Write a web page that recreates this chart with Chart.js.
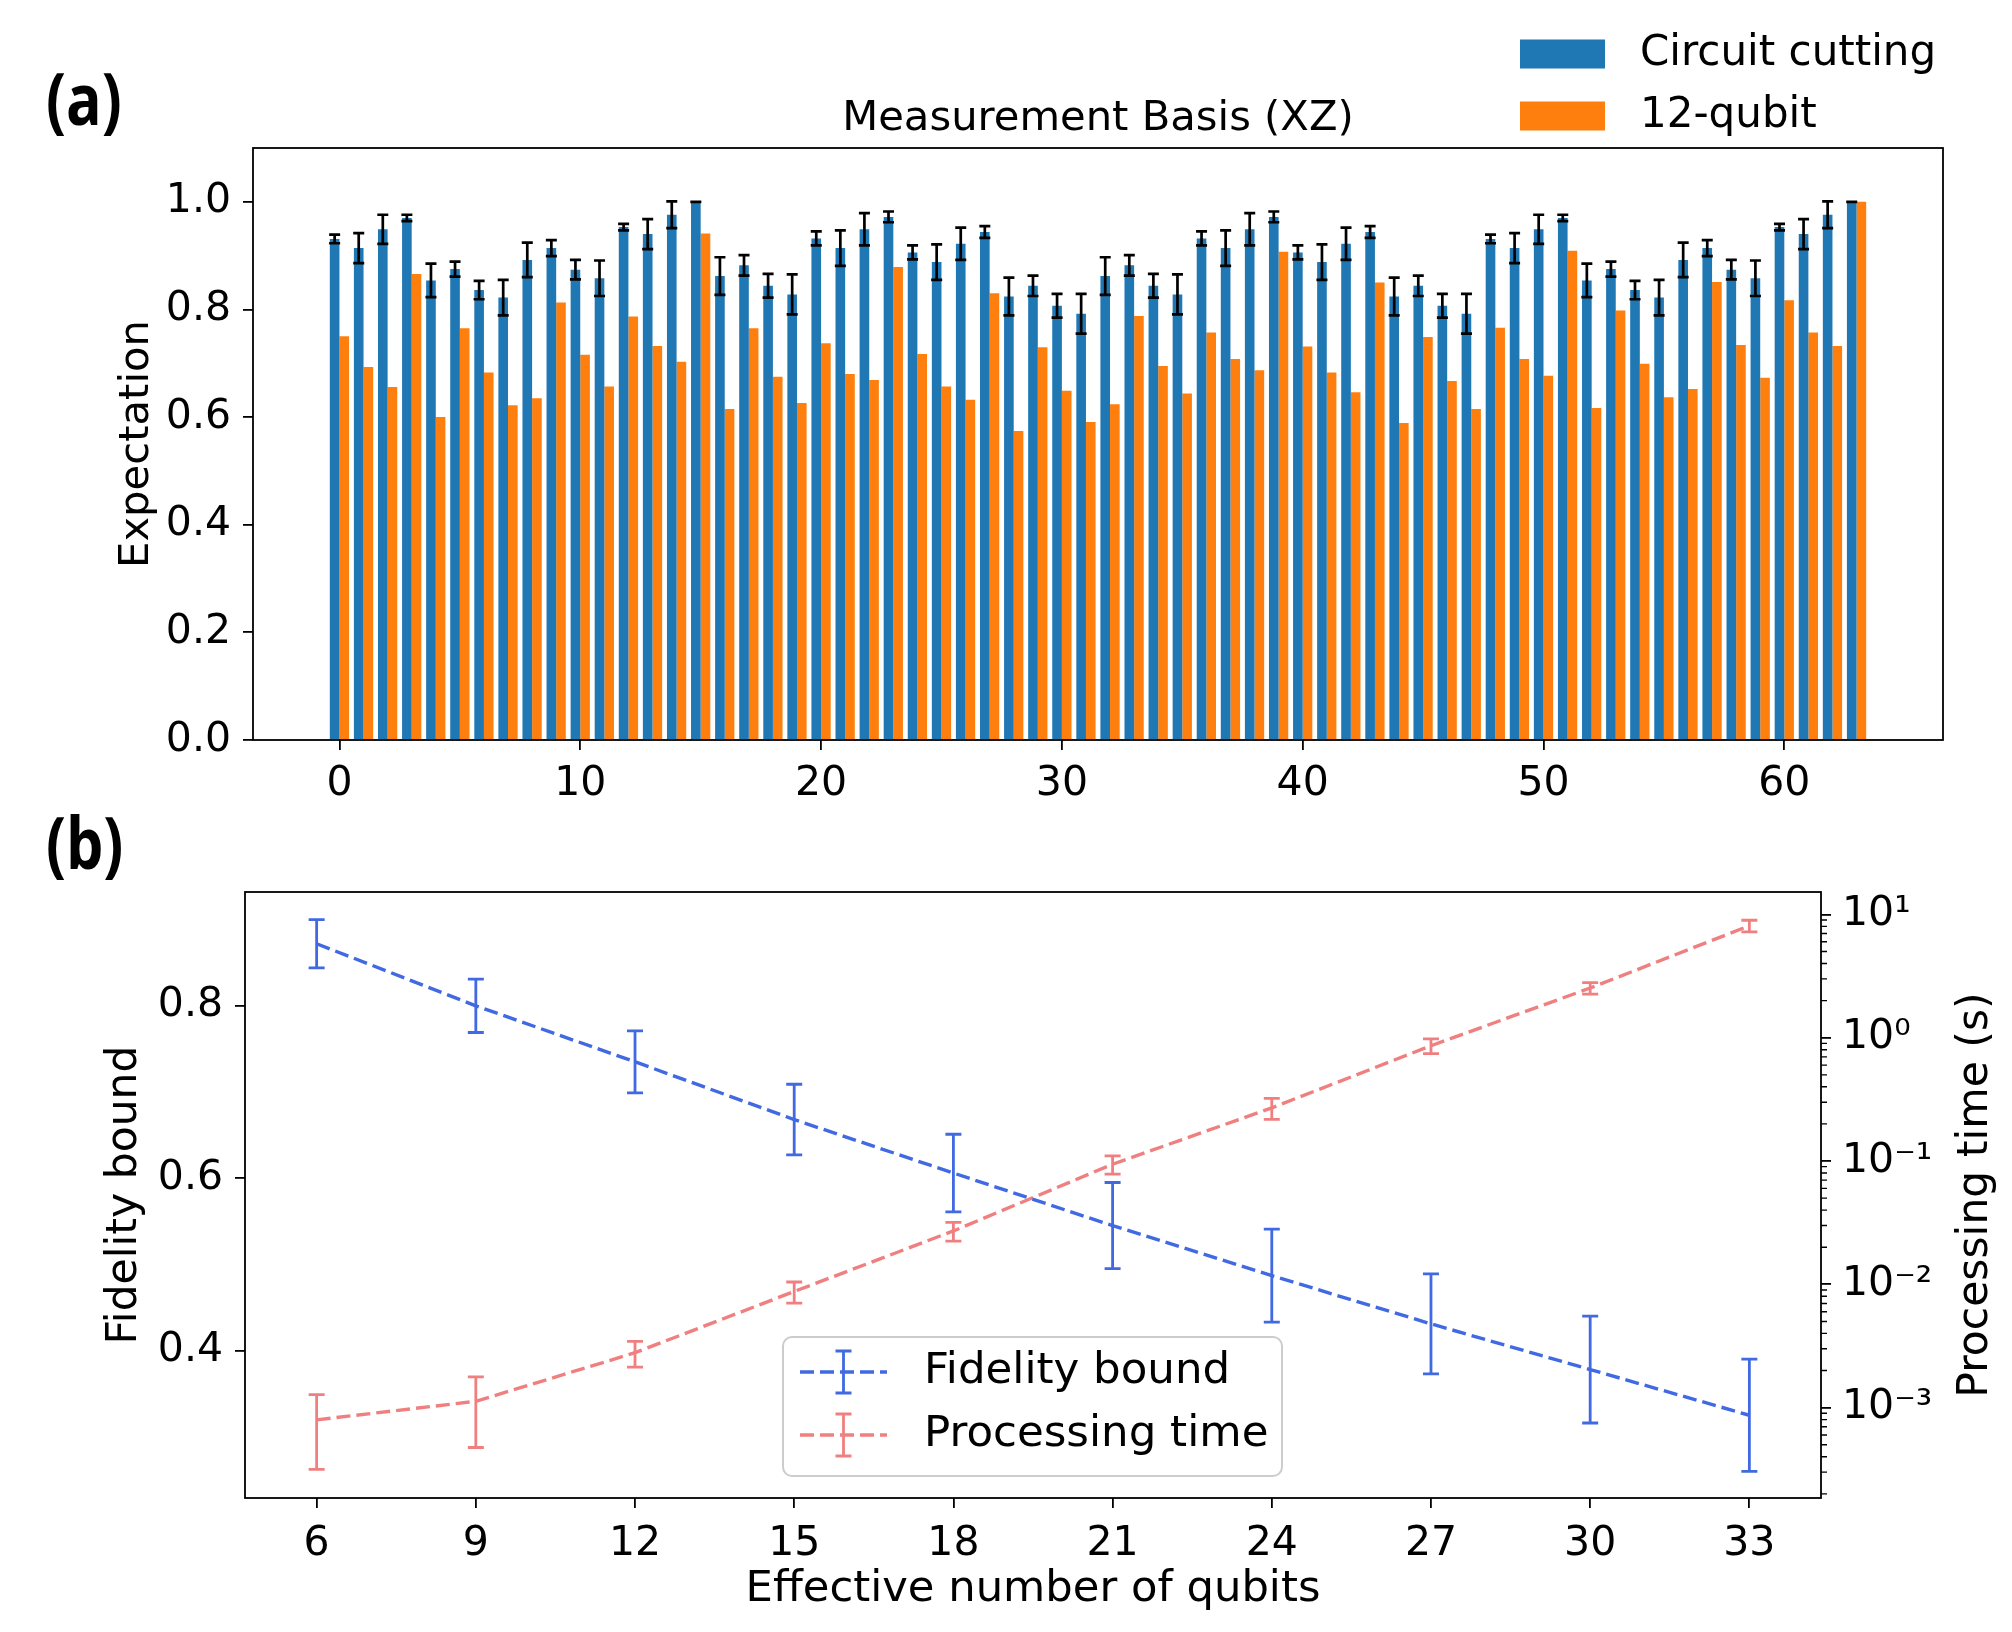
<!DOCTYPE html>
<html lang="en">

<head>
    <meta charset="UTF-8">
    <title>Circuit cutting: expectation values and fidelity bound</title>

    <!-- Chart.js -->
    <script src="https://cdn.jsdelivr.net/npm/chart.js@4.4.1/dist/chart.umd.min.js"></script>

    <style>
        html, body {
            margin: 0;
            padding: 0;
            background: #fff;
        }

        #page {
            position: relative;
            width: 2012px;
            height: 1632px;
        }

        .panel {
            position: absolute;
            left: 0;
            width: 2012px;
        }

        #panel-a { top: 0; height: 820px; }
        #panel-b { top: 820px; height: 812px; }

        /* panel tags (a) / (b) */
        .tag {
            position: absolute;
            left: 46px;
            font-family: 'Open Sans', sans-serif;
            font-weight: 700;
            font-size: 72px;
            line-height: 1;
            transform: scaleX(0.82);
            transform-origin: left center;
        }
    </style>
</head>

<body>
    <div id="page">
        <div class="panel" id="panel-a"><canvas id="chartA"></canvas></div>
        <div class="panel" id="panel-b"><canvas id="chartB"></canvas></div>
        <div class="tag" style="top: 61px;">(a)</div>
        <div class="tag" style="top: 805px;">(b)</div>
    </div>

    <script>
        // ---------- panel (a): expectation per measurement index ----------
        const basisIndex = Array.from({ length: 64 }, (_, i) => i);
        const xTicksA = [0, 10, 20, 30, 40, 50, 60];
        const yTicksA = [0.0, 0.2, 0.4, 0.6, 0.8, 1.0];

        const circuitCutting = [
            0.931, 0.914, 0.949, 0.970, 0.854, 0.875, 0.836, 0.822, 0.892, 0.914, 0.874, 0.858, 0.953, 0.940, 0.976, 1.000,
            0.862, 0.882, 0.844, 0.828, 0.932, 0.914, 0.949, 0.972, 0.906, 0.888, 0.922, 0.944, 0.824, 0.844, 0.807, 0.792,
            0.862, 0.882, 0.844, 0.828, 0.932, 0.914, 0.949, 0.972, 0.906, 0.888, 0.922, 0.944, 0.824, 0.844, 0.807, 0.792,
            0.931, 0.914, 0.949, 0.970, 0.854, 0.875, 0.836, 0.822, 0.892, 0.914, 0.874, 0.858, 0.953, 0.940, 0.976, 1.000
        ];
        const circuitCuttingErr = [
            0.008, 0.028, 0.027, 0.006, 0.031, 0.014, 0.017, 0.033, 0.032, 0.015, 0.018, 0.033, 0.006, 0.028, 0.025, 0.000,
            0.035, 0.019, 0.022, 0.037, 0.013, 0.033, 0.030, 0.010, 0.013, 0.033, 0.030, 0.011, 0.035, 0.019, 0.022, 0.037,
            0.035, 0.019, 0.022, 0.037, 0.013, 0.033, 0.030, 0.010, 0.013, 0.033, 0.030, 0.011, 0.035, 0.019, 0.022, 0.037,
            0.008, 0.028, 0.027, 0.006, 0.031, 0.014, 0.017, 0.033, 0.032, 0.015, 0.018, 0.033, 0.006, 0.028, 0.025, 0.000
        ];
        const twelveQubit = [
            0.750, 0.693, 0.656, 0.866, 0.600, 0.765, 0.683, 0.622, 0.635, 0.813, 0.716, 0.657, 0.787, 0.732, 0.703, 0.941,
            0.615, 0.765, 0.675, 0.626, 0.737, 0.680, 0.669, 0.879, 0.717, 0.657, 0.632, 0.830, 0.574, 0.730, 0.649, 0.591,
            0.624, 0.788, 0.695, 0.644, 0.757, 0.708, 0.687, 0.907, 0.731, 0.683, 0.646, 0.850, 0.589, 0.749, 0.667, 0.615,
            0.766, 0.708, 0.677, 0.909, 0.617, 0.798, 0.699, 0.637, 0.652, 0.851, 0.734, 0.673, 0.817, 0.757, 0.732, 1.000
        ];

        // ---------- panel (b): fidelity bound and processing time ----------
        const qubits = [6, 9, 12, 15, 18, 21, 24, 27, 30, 33];
        const fidelityBound = [0.872, 0.800, 0.735, 0.668, 0.606, 0.545, 0.487, 0.431, 0.378, 0.325];
        const fidelityErr = [0.028, 0.031, 0.036, 0.041, 0.045, 0.050, 0.054, 0.058, 0.062, 0.065];
        const processingTime = [7.96e-4, 1.125e-3, 2.79e-3, 8.75e-3, 0.0271, 0.0942, 0.270, 0.861, 2.53, 8.09];
        const processingErr = [4.8e-4, 6.5e-4, 6.6e-4, 1.7e-3, 4.7e-3, 0.016, 0.052, 0.118, 0.27, 0.88];
        const fidelityTicks = [0.4, 0.6, 0.8];
        const timeTicks = [1e-3, 1e-2, 1e-1, 1e0, 1e1];

        const BLUE = '#1f77b4';
        const ORANGE = '#ff7f0e';
        const ROYAL = '#4169e1';
        const CORAL = '#f08080';

        Chart.defaults.font.family = "'DejaVu Sans', sans-serif";
        Chart.defaults.font.size = 41;
        Chart.defaults.color = '#000';

        const SUP = { '-': '\u207B', '0': '\u2070', '1': '\u00B9', '2': '\u00B2', '3': '\u00B3', '4': '\u2074' };
        function powerLabel(v) {
            const e = String(Math.round(Math.log10(v)));
            return '10' + e.split('').map(c => SUP[c]).join('');
        }

        // error bars, frame, legends and extra texts
        const figureDecor = {
            id: 'figureDecor',
            afterDatasetsDraw(chart, args, opts) {
                const ctx = chart.ctx;
                ctx.save();
                ctx.setLineDash([]);
                for (const eb of opts.errorBars || []) {
                    const ds = chart.data.datasets[eb.dataset];
                    const meta = chart.getDatasetMeta(eb.dataset);
                    const yScale = chart.scales[meta.yAxisID];
                    ctx.strokeStyle = eb.color;
                    ctx.lineWidth = eb.lineWidth;
                    meta.data.forEach((el, i) => {
                        const y = ds.data[i].y;
                        const e = eb.errors[i];
                        const top = yScale.getPixelForValue(y + e);
                        const bot = yScale.getPixelForValue(y - e);
                        ctx.beginPath();
                        ctx.moveTo(el.x, top);
                        ctx.lineTo(el.x, bot);
                        ctx.moveTo(el.x - eb.cap, top);
                        ctx.lineTo(el.x + eb.cap, top);
                        ctx.moveTo(el.x - eb.cap, bot);
                        ctx.lineTo(el.x + eb.cap, bot);
                        ctx.stroke();
                    });
                }
                ctx.restore();
            },
            afterDraw(chart, args, opts) {
                const ctx = chart.ctx;
                const area = chart.chartArea;
                ctx.save();

                // axes frame
                ctx.strokeStyle = '#000';
                ctx.lineWidth = 1.8;
                ctx.strokeRect(area.left, area.top, area.right - area.left, area.bottom - area.top);

                // minor ticks of the log axis
                if (opts.minorTicks) {
                    const s = chart.scales[opts.minorTicks.axis];
                    ctx.lineWidth = 1.4;
                    ctx.beginPath();
                    opts.minorTicks.values.forEach(v => {
                        if (v < s.min || v > s.max) return;
                        const y = s.getPixelForValue(v);
                        ctx.moveTo(area.right, y);
                        ctx.lineTo(area.right + 6, y);
                    });
                    ctx.stroke();
                }

                ctx.fillStyle = '#000';

                // title over the axes
                if (opts.title) {
                    ctx.font = opts.title.font;
                    ctx.textAlign = 'center';
                    ctx.textBaseline = 'middle';
                    ctx.fillText(opts.title.text, (area.left + area.right) / 2, opts.title.y);
                }

                // right axis title, reading bottom to top
                if (opts.rightTitle) {
                    ctx.save();
                    ctx.font = opts.rightTitle.font;
                    ctx.translate(opts.rightTitle.x, (area.top + area.bottom) / 2);
                    ctx.rotate(-Math.PI / 2);
                    ctx.textAlign = 'center';
                    ctx.textBaseline = 'middle';
                    ctx.fillText(opts.rightTitle.text, 0, 0);
                    ctx.restore();
                }

                // legend
                const lg = opts.legend;
                if (lg) {
                    if (lg.frame) {
                        const f = lg.frame;
                        ctx.beginPath();
                        ctx.roundRect(f.x0, f.y0, f.x1 - f.x0, f.y1 - f.y0, 9);
                        ctx.fillStyle = 'rgba(255,255,255,0.8)';
                        ctx.fill();
                        ctx.strokeStyle = '#cccccc';
                        ctx.lineWidth = 2;
                        ctx.stroke();
                    }
                    chart.data.datasets.forEach((ds, i) => {
                        const yc = lg.rows[i];
                        if (lg.kind === 'box') {
                            ctx.fillStyle = ds.backgroundColor;
                            ctx.fillRect(lg.handleX0, yc - lg.boxH / 2, lg.handleX1 - lg.handleX0, lg.boxH);
                        } else {
                            const xm = (lg.handleX0 + lg.handleX1) / 2;
                            ctx.strokeStyle = ds.borderColor;
                            ctx.lineWidth = ds.borderWidth;
                            ctx.setLineDash(ds.borderDash);
                            ctx.beginPath();
                            ctx.moveTo(lg.handleX0, yc);
                            ctx.lineTo(lg.handleX1, yc);
                            ctx.stroke();
                            ctx.setLineDash([]);
                            ctx.lineWidth = 2.8;
                            ctx.beginPath();
                            ctx.moveTo(xm, yc - 21);
                            ctx.lineTo(xm, yc + 21);
                            ctx.moveTo(xm - 8, yc - 21);
                            ctx.lineTo(xm + 8, yc - 21);
                            ctx.moveTo(xm - 8, yc + 21);
                            ctx.lineTo(xm + 8, yc + 21);
                            ctx.stroke();
                        }
                        ctx.fillStyle = '#000';
                        ctx.font = lg.font;
                        ctx.textAlign = 'left';
                        ctx.textBaseline = 'middle';
                        ctx.fillText(ds.label, lg.textX, yc);
                    });
                }
                ctx.restore();
            }
        };

        const tickGrid = {
            display: true,
            drawOnChartArea: false,
            drawTicks: true,
            tickLength: 10,
            color: '#000',
            lineWidth: 1.8
        };

        // ---------- chart (a) ----------
        new Chart(document.getElementById('chartA'), {
            type: 'bar',
            data: {
                datasets: [
                    {
                        label: 'Circuit cutting',
                        data: basisIndex.map((x, i) => ({ x: x, y: circuitCutting[i] })),
                        backgroundColor: BLUE,
                        borderWidth: 0,
                        categoryPercentage: 0.8,
                        barPercentage: 1.0
                    },
                    {
                        label: '12-qubit',
                        data: basisIndex.map((x, i) => ({ x: x, y: twelveQubit[i] })),
                        backgroundColor: ORANGE,
                        borderWidth: 0,
                        categoryPercentage: 0.8,
                        barPercentage: 1.0
                    }
                ]
            },
            options: {
                responsive: true,
                maintainAspectRatio: false,
                animation: false,
                layout: { padding: { top: 148, right: 69, left: 0, bottom: 0 } },
                plugins: {
                    legend: { display: false },
                    tooltip: { enabled: false },
                    figureDecor: {
                        errorBars: [{ dataset: 0, errors: circuitCuttingErr, color: '#000', lineWidth: 2.7, cap: 5.5 }],
                        title: { text: 'Measurement Basis (XZ)', y: 119, font: "41.7px 'DejaVu Sans'" },
                        legend: {
                            kind: 'box', rows: [54, 116], handleX0: 1520, handleX1: 1605, boxH: 29, textX: 1640,
                            font: "42px 'DejaVu Sans'"
                        }
                    }
                },
                scales: {
                    x: {
                        type: 'linear',
                        offset: false,
                        min: -3.59,
                        max: 66.59,
                        afterBuildTicks: s => { s.ticks = xTicksA.map(v => ({ value: v })); },
                        afterFit: s => { s.height = 80; },
                        grid: Object.assign({}, tickGrid, { offset: false }),
                        border: { display: false },
                        ticks: { padding: 10, maxRotation: 0, callback: v => String(v) }
                    },
                    y: {
                        min: 0,
                        max: 1.1,
                        afterBuildTicks: s => { s.ticks = yTicksA.map(v => ({ value: v })); },
                        afterFit: s => { s.width = 253; },
                        grid: tickGrid,
                        border: { display: false },
                        ticks: { padding: 12, callback: v => v.toFixed(1) },
                        title: { display: true, text: 'Expectation', font: { size: 41.7 }, padding: { top: 112, bottom: 0 } }
                    }
                }
            },
            plugins: [figureDecor]
        });

        // ---------- chart (b) ----------
        const minorTimeTicks = [];
        [-4, -3, -2, -1, 0, 1].forEach(e => {
            for (let k = 2; k <= 9; k++) minorTimeTicks.push(k * Math.pow(10, e));
        });

        new Chart(document.getElementById('chartB'), {
            type: 'line',
            data: {
                datasets: [
                    {
                        label: 'Fidelity bound',
                        data: qubits.map((x, i) => ({ x: x, y: fidelityBound[i] })),
                        yAxisID: 'y',
                        borderColor: ROYAL,
                        backgroundColor: ROYAL,
                        borderWidth: 3.4,
                        borderDash: [14, 6],
                        pointRadius: 0,
                        fill: false,
                        tension: 0
                    },
                    {
                        label: 'Processing time',
                        data: qubits.map((x, i) => ({ x: x, y: processingTime[i] })),
                        yAxisID: 'y2',
                        borderColor: CORAL,
                        backgroundColor: CORAL,
                        borderWidth: 3.4,
                        borderDash: [14, 6],
                        pointRadius: 0,
                        fill: false,
                        tension: 0
                    }
                ]
            },
            options: {
                responsive: true,
                maintainAspectRatio: false,
                animation: false,
                layout: { padding: { top: 72, right: 0, left: 0, bottom: 0 } },
                plugins: {
                    legend: { display: false },
                    tooltip: { enabled: false },
                    figureDecor: {
                        errorBars: [
                            { dataset: 0, errors: fidelityErr, color: ROYAL, lineWidth: 2.8, cap: 8 },
                            { dataset: 1, errors: processingErr, color: CORAL, lineWidth: 2.8, cap: 8 }
                        ],
                        minorTicks: { axis: 'y2', values: minorTimeTicks },
                        rightTitle: { text: 'Processing time (s)', x: 1976, font: "42.5px 'DejaVu Sans'" },
                        legend: {
                            kind: 'errline', rows: [552, 615], handleX0: 800, handleX1: 887, textX: 924,
                            frame: { x0: 783, y0: 517, x1: 1282, y1: 656 },
                            font: "43.5px 'DejaVu Sans'"
                        }
                    }
                },
                scales: {
                    x: {
                        type: 'linear',
                        min: 4.65,
                        max: 34.35,
                        afterBuildTicks: s => { s.ticks = qubits.map(v => ({ value: v })); },
                        afterFit: s => { s.height = 134; },
                        grid: tickGrid,
                        border: { display: false },
                        ticks: { padding: 12, maxRotation: 0, callback: v => String(v) },
                        title: {
                            display: true, text: 'Effective number of qubits', font: { size: 43.3 },
                            padding: { top: 0, bottom: 16 }
                        }
                    },
                    y: {
                        position: 'left',
                        min: 0.229,
                        max: 0.932,
                        afterBuildTicks: s => { s.ticks = fidelityTicks.map(v => ({ value: v })); },
                        afterFit: s => { s.width = 245; },
                        grid: tickGrid,
                        border: { display: false },
                        ticks: { padding: 12, callback: v => v.toFixed(1) },
                        title: {
                            display: true, text: 'Fidelity bound', font: { size: 42.5 },
                            padding: { top: 99, bottom: 0 }
                        }
                    },
                    y2: {
                        type: 'logarithmic',
                        position: 'right',
                        min: 1.85e-4,
                        max: 15.2,
                        afterBuildTicks: s => { s.ticks = timeTicks.map(v => ({ value: v })); },
                        afterFit: s => { s.width = 191; },
                        grid: tickGrid,
                        border: { display: false },
                        ticks: { padding: 11, callback: v => powerLabel(v) }
                    }
                }
            },
            plugins: [figureDecor]
        });
    </script>
</body>

</html>
